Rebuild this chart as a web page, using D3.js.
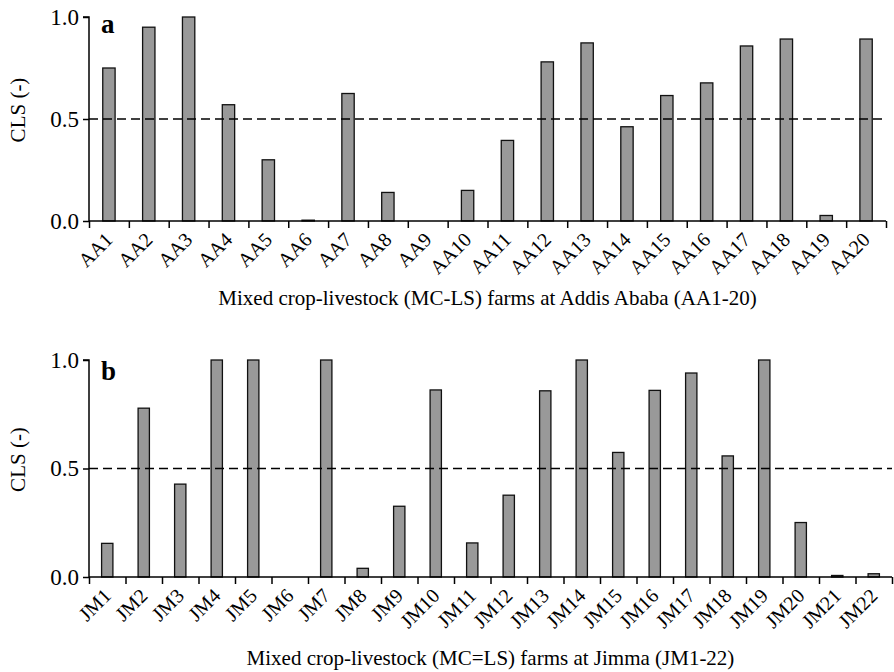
<!DOCTYPE html>
<html lang="en">
<head>
    <meta charset="UTF-8">
    <title>CLS per farm</title>
    <script src="https://d3js.org/d3.v7.min.js"></script>
    <style>
        body {
            margin: 0;
            background: #fff;
            font-family: "Liberation Serif", "Times New Roman", Times, serif;
        }
        svg text { fill: #000; }
    </style>
</head>
<body>
    <div id="chart"></div>

    <script>
        // Panel a: Addis Ababa farms
        const farmsA = ["AA1", "AA2", "AA3", "AA4", "AA5", "AA6", "AA7", "AA8", "AA9", "AA10",
                        "AA11", "AA12", "AA13", "AA14", "AA15", "AA16", "AA17", "AA18", "AA19", "AA20"];
        const clsA = [0.75, 0.95, 1.0, 0.57, 0.30, 0.004, 0.625, 0.14, 0, 0.15,
                      0.395, 0.78, 0.873, 0.462, 0.615, 0.677, 0.858, 0.892, 0.027, 0.892];

        // Panel b: Jimma farms
        const farmsB = ["JM1", "JM2", "JM3", "JM4", "JM5", "JM6", "JM7", "JM8", "JM9", "JM10", "JM11",
                        "JM12", "JM13", "JM14", "JM15", "JM16", "JM17", "JM18", "JM19", "JM20", "JM21", "JM22"];
        const clsB = [0.155, 0.778, 0.428, 1.0, 1.0, 0, 1.0, 0.04, 0.326, 0.862, 0.157,
                      0.377, 0.858, 1.0, 0.574, 0.86, 0.94, 0.558, 1.0, 0.251, 0.007, 0.015];

        const yTicks = [0, 0.5, 1.0];
        const threshold = 0.5;

        const svg = d3.select("#chart")
            .append("svg")
            .attr("width", 894)
            .attr("height", 672);

        function drawPanel(opts) {
            const { farms, values, letter, letterY, xTitle, left, right, top, bottom, titleY } = opts;
            const width = right - left;
            const height = bottom - top;
            const n = farms.length;

            const g = svg.append("g")
                .attr("transform", `translate(${left}, ${top})`);

            // bars sit in the middle of each category cell
            const x = d3.scaleBand()
                .domain(farms)
                .range([0, width])
                .paddingInner(0.69)
                .paddingOuter(0.345);

            const xEdge = d3.scaleLinear().domain([0, n]).range([0, width]);

            const y = d3.scaleLinear()
                .domain([0, 1])
                .range([height, 0]);

            g.selectAll("rect.bar")
                .data(values)
                .enter()
                .append("rect")
                .attr("class", "bar")
                .attr("x", (d, i) => x(farms[i]))
                .attr("y", d => y(d))
                .attr("width", x.bandwidth())
                .attr("height", d => y(0) - y(d))
                .attr("fill", "#999999")
                .attr("stroke", "#111")
                .attr("stroke-width", 1.3);

            g.append("line")
                .attr("x1", 0)
                .attr("x2", width)
                .attr("y1", y(threshold))
                .attr("y2", y(threshold))
                .attr("stroke", "#000")
                .attr("stroke-width", 1.5)
                .attr("stroke-dasharray", "9,5");

            // y axis
            const yAxis = g.append("g")
                .call(d3.axisLeft(y).tickValues(yTicks).tickFormat(d3.format(".1f")).tickSize(6).tickPadding(4));
            yAxis.select(".domain").attr("stroke", "#000").attr("stroke-width", 1.5).attr("d", `M-6,${y(1)}H0V${height}`);
            yAxis.selectAll(".tick line").attr("stroke", "#000").attr("stroke-width", 1.5);
            yAxis.selectAll(".tick text")
                .attr("font-family", "Liberation Serif")
                .attr("font-size", 23);

            // x axis: ticks on the cell edges
            const xAxis = g.append("g")
                .attr("transform", `translate(0, ${height})`)
                .call(d3.axisBottom(xEdge).tickValues(d3.range(n + 1)).tickFormat("").tickSize(7));
            xAxis.select(".domain").attr("stroke", "#000").attr("stroke-width", 1.5).attr("d", `M0,0H${width}`);
            xAxis.selectAll(".tick line").attr("stroke", "#000").attr("stroke-width", 1.5);

            // farm labels, turned 45 degrees
            g.append("g")
                .selectAll("text")
                .data(farms)
                .enter()
                .append("text")
                .attr("transform", d => `translate(${x(d) + x.bandwidth() / 2 + 5}, ${height + 20}) rotate(-45)`)
                .attr("text-anchor", "end")
                .attr("font-family", "Liberation Serif")
                .attr("font-size", 20)
                .text(d => d);

            // panel letter
            g.append("text")
                .attr("x", 12)
                .attr("y", letterY)
                .attr("font-family", "Liberation Serif")
                .attr("font-weight", "bold")
                .attr("font-size", 27)
                .text(letter);

            // y title
            g.append("text")
                .attr("transform", `translate(${-left + 25}, ${height / 2 - 9}) rotate(-90)`)
                .attr("text-anchor", "middle")
                .attr("font-family", "Liberation Serif")
                .attr("font-size", 21)
                .text("CLS (-)");

            // x title
            svg.append("text")
                .attr("x", left + width / 2)
                .attr("y", titleY)
                .attr("text-anchor", "middle")
                .attr("font-family", "Liberation Serif")
                .attr("font-size", 21)
                .text(xTitle);
        }

        drawPanel({
            farms: farmsA, values: clsA, letter: "a", letterY: 16,
            xTitle: "Mixed crop-livestock (MC-LS) farms at Addis Ababa (AA1-20)",
            left: 89, right: 886, top: 17, bottom: 221, titleY: 305
        });

        drawPanel({
            farms: farmsB, values: clsB, letter: "b", letterY: 20,
            xTitle: "Mixed crop-livestock (MC=LS) farms at Jimma (JM1-22)",
            left: 89, right: 892, top: 360, bottom: 577, titleY: 665
        });
    </script>
</body>
</html>
